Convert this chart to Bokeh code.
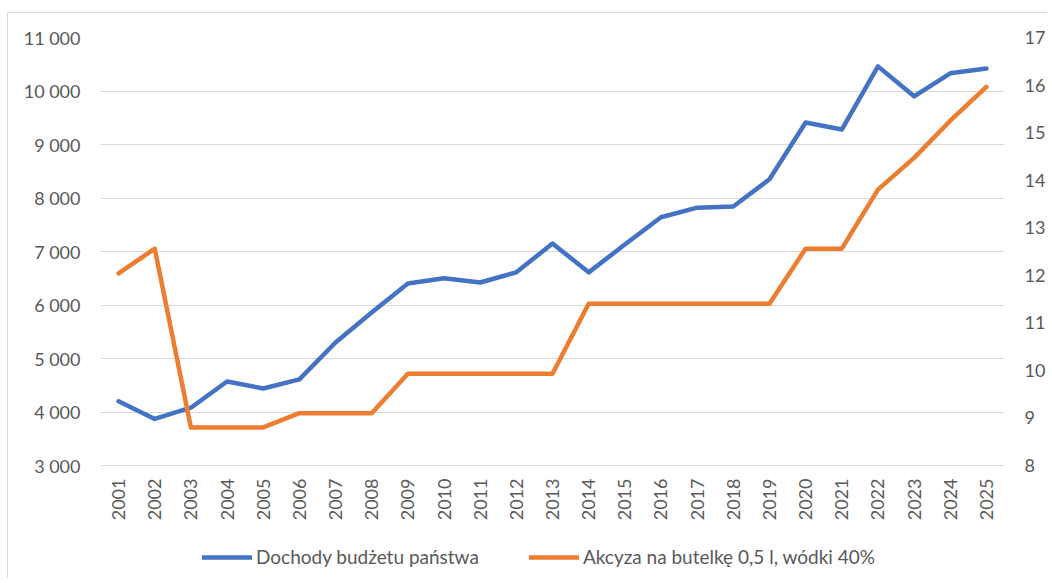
from bokeh.plotting import figure
from bokeh.models import Range1d, LinearAxis, FixedTicker, Legend, LegendItem, FactorRange
from bokeh.embed import file_html
from bokeh.resources import INLINE

years = [str(y) for y in range(2001, 2026)]
dochody = [4200, 3870, 4080, 4570, 4440, 4610, 5300, 5860, 6400, 6500, 6420, 6610,
           7150, 6610, 7130, 7640, 7820, 7840, 8350, 9410, 9280, 10460, 9900, 10330, 10420]
akcyza = [12.04, 12.56, 8.80, 8.80, 8.80, 9.10, 9.10, 9.10, 9.93, 9.93, 9.93, 9.93,
          9.93, 11.40, 11.40, 11.40, 11.40, 11.40, 11.40, 12.56, 12.56, 13.80, 14.47, 15.25, 15.96]
left_ticks = [3000, 4000, 5000, 6000, 7000, 8000, 9000, 10000, 11000]
right_ticks = [8, 9, 10, 11, 12, 13, 14, 15, 16, 17]
label_dochody = "Dochody budżetu państwa"
label_akcyza = "Akcyza na butelkę 0,5 l, wódki 40%"

FONT = "Lato"
TXT = "#595959"
GRID = "#d9d9d9"
BLUE = "#4472C4"
ORANGE = "#ED7D31"

# plot geometry (pixels)
AXIS_H = 428          # height between lowest and highest gridline
EXTRA = 110           # room below the lowest gridline for the category labels and legend
l_lo, l_hi = left_ticks[0], left_ticks[-1]
r_lo, r_hi = right_ticks[0], right_ticks[-1]
left_start = l_lo - EXTRA * (l_hi - l_lo) / AXIS_H
right_start = r_lo - EXTRA * (r_hi - r_lo) / AXIS_H

p = figure(width=1040, height=566, x_range=FactorRange(*years, range_padding=0),
           y_range=Range1d(left_start, l_hi), output_backend="svg", toolbar_location=None,
           min_border_left=92, min_border_right=40, min_border_top=24, min_border_bottom=4)
p.styles = {"margin-left": "7px", "margin-top": "12px",
            "border-left": "1px solid #d9d9d9", "border-top": "1px solid #d9d9d9"}
p.outline_line_color = None
p.background_fill_color = "white"
p.border_fill_color = "white"

p.extra_y_ranges = {"r": Range1d(right_start, r_hi)}

r1 = p.line(years, dochody, line_color=BLUE, line_width=4.5, line_join="round", line_cap="round")
r2 = p.line(years, akcyza, line_color=ORANGE, line_width=4.5, y_range_name="r",
            line_join="round", line_cap="round")

yl = p.yaxis[0]
yl.ticker = FixedTicker(ticks=left_ticks)
yl.major_label_overrides = {t: f"{t:,}".replace(",", " ") for t in left_ticks}
p.ygrid.ticker = yl.ticker

ra = LinearAxis(y_range_name="r", ticker=FixedTicker(ticks=right_ticks))
p.add_layout(ra, "right")

xa = p.xaxis[0]
xa.fixed_location = l_lo
for ax in [yl, ra, xa]:
    ax.axis_line_color = None
    ax.major_tick_line_color = None
    ax.minor_tick_line_color = None
    ax.major_tick_out = 0
    ax.major_tick_in = 0
    ax.minor_tick_out = 0
    ax.minor_tick_in = 0
    ax.major_label_text_font = FONT
    ax.major_label_text_font_size = "18px"
    ax.major_label_text_color = TXT
yl.major_label_standoff = 20
ra.major_label_standoff = 20
xa.major_label_orientation = 1.5708
xa.major_label_standoff = 13
xa.group_text_font_size = "0px"

p.xgrid.grid_line_color = None
p.ygrid.grid_line_color = GRID
p.ygrid.grid_line_width = 1

legend = Legend(items=[LegendItem(label=label_dochody, renderers=[r1]),
                       LegendItem(label=label_akcyza, renderers=[r2])],
                orientation="horizontal", location=(102, 7),
                label_text_font=FONT, label_text_font_size="19px", label_text_color=TXT,
                glyph_width=50, glyph_height=22, label_standoff=4, spacing=50,
                padding=0, margin=0, border_line_color=None, background_fill_alpha=0)
p.add_layout(legend, "center")

open("out.html", "w").write(file_html(p, INLINE))
